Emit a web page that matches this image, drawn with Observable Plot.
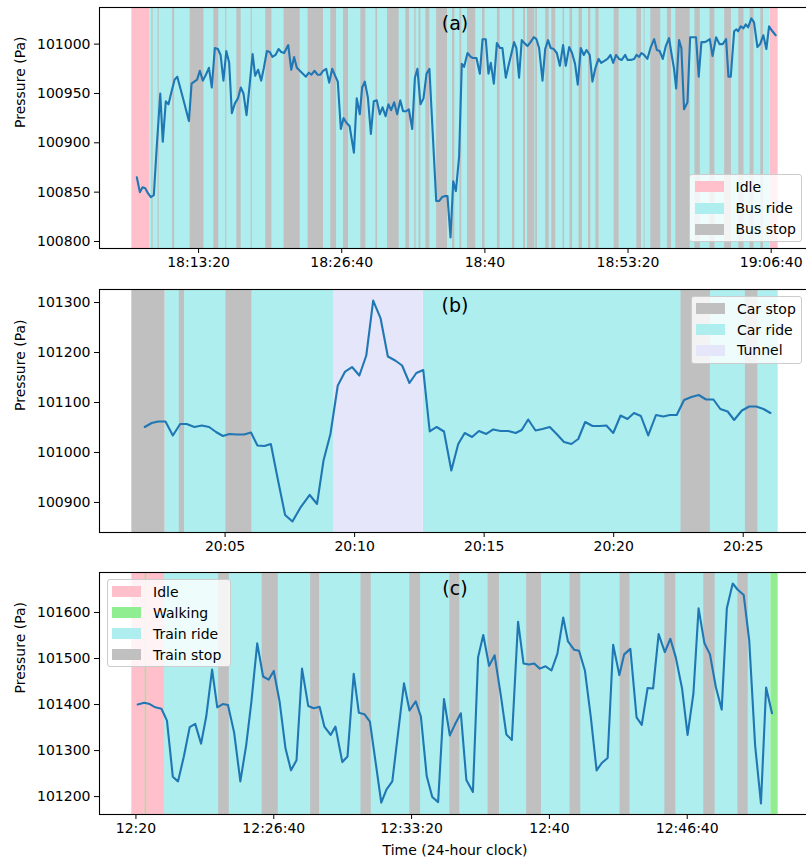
<!DOCTYPE html>
<html><head><meta charset="utf-8">
<script src="https://cdn.jsdelivr.net/npm/d3@7"></script>
<script src="https://cdn.jsdelivr.net/npm/@observablehq/plot@0.6"></script>
<style>
html,body{margin:0;padding:0;background:#fff;overflow:hidden;}
#fig{position:relative;width:806px;height:860px;overflow:hidden;font-family:"DejaVu Sans",sans-serif;}
.panel{position:absolute;left:0;max-width:none !important;}
.legend{position:absolute;box-sizing:border-box;background:rgba(255,255,255,0.8);border:1px solid #cccccc;border-radius:3px;font-size:14px;color:#000;}
.row{position:absolute;display:flex;align-items:center;height:20px;white-space:nowrap;}
.sw{width:29px;height:11px;margin-right:12px;flex:none;}
</style></head>
<body><div id="fig"></div>
<script>
// ---------- Panel (a): bus trip, time in seconds after 18:00:00 ----------
const timeA = [
 455,472,487,502,517,533,550,567,586,600,
 617,632,649,666,681,712,746,761,776,792,
 807,824,841,858,874,891,908,923,939,955,
 971,986,1003,1020,1036,1051,1068,1085,1102,1116,
 1133,1150,1165,1182,1198,1213,1230,1247,1262,1278,
 1301,1318,1334,1349,1366,1383,1400,1416,1431,1448,
 1465,1481,1496,1513,1530,1547,1563,1578,1595,1610,
 1627,1644,1668,1684,1701,1714,1729,1746,1763,1779,
 1796,1813,1828,1845,1861,1876,1893,1910,1927,1943,
 1960,1975,1994,2009,2023,2040,2057,2074,2090,2128,
 2144,2161,2178,2191,2208,2223,2238,2256,2271,2284,
 2303,2321,2334,2353,2372,2387,2405,2420,2433,2450,
 2467,2485,2498,2517,2532,2549,2563,2576,2591,2606,
 2621,2638,2655,2673,2688,2703,2722,2737,2753,2768,
 2785,2802,2819,2837,2852,2871,2887,2904,2919,2936,
 2953,2968,2986,3001,3018,3035,3050,3068,3085,3102,
 3117,3133,3150,3165,3184,3197,3215,3234,3247,3262,
 3275,3290,3308,3327,3346,3361,3377,3394,3411,3429,
 3444,3457,3469,3485,3498,3513,3532,3547,3565,3580,
 3595,3610,3625,3640,3657,3672,3692,3711,3729,3748,
 3761,3774,3793,3806,3815,3830,3845,3858,3871,3889,
 3904,3923,3938,3956,3973,3988,4007,4025];
const pressureA = [
 100865,100850,100855,100854,100849,100845,100847,100898,100950,100901,
 100942,100939,100952,100964,100967,100946,100922,100960,100962,100964,
 100973,100963,100969,100976,100956,100996,100995,100989,100963,100993,
 100981,100930,100940,100945,100956,100950,100928,100958,100990,100968,
 100974,100963,100976,100993,100992,100987,100989,100995,100992,100991,
 100999,100974,100987,100976,100973,100970,100967,100971,100969,100973,
 100969,100969,100973,100975,100961,100975,100968,100962,100914,100925,
 100920,100917,100890,100945,100929,100956,100962,100946,100909,100942,
 100943,100929,100936,100927,100939,100933,100941,100929,100943,100932,
 100932,100934,100914,100966,100975,100939,100945,100970,100975,100841,
 100841,100845,100846,100846,100804,100861,100851,100886,100980,100977,
 100991,100987,100986,100986,100970,101005,101005,100970,100981,100960,
 101001,100996,100996,100966,100978,100991,101002,100996,100966,101004,
 101001,100998,101002,101007,101005,100996,100963,100995,101004,100996,
 100995,100991,100978,100999,100978,100997,100991,100980,100959,100996,
 100989,100994,100989,100962,100976,100985,100981,100983,100985,100989,
 100981,100989,100985,100984,100989,100984,100984,100985,100989,100987,
 100991,100989,100985,100997,101005,100994,100993,100985,100998,101006,
 100989,100975,100955,101004,100996,100934,100941,101007,101007,101007,
 100967,101002,101002,101003,101005,100988,101007,101000,101000,101005,
 100967,100967,101013,101015,101013,101018,101016,101020,101017,101026,
 101022,100997,101000,101009,100995,101018,101013,101009];
const idleA = [[427,528],[3994,4039]];
const busRideA = [[528,3994]];
const busStopA = [[539,546],[574,580],[655,666],[753,830],[885,913],[952,958],[1014,1038],[1094,1100],
 [1176,1210],[1278,1368],[1412,1498],[1539,1571],[1610,1638],[1707,1735],[1791,1800],[1856,1921],
 [1958,1979],[2008,2016],[2032,2042],[2070,2092],[2130,2191],[2219,2232],[2260,2271],[2303,2349],
 [2387,2401],[2470,2485],[2554,2567],[2616,2627],[2638,2679],[2684,2694],[2740,2759],[2774,2796],
 [2837,2845],[2876,2890],[2926,2945],[2979,2992],[3020,3038],[3122,3150],[3249,3275],[3290,3295],
 [3327,3383],[3420,3443],[3467,3547],[3574,3604],[3658,3685],[3740,3778],[3819,3848],[3882,3904],[3942,3957]];
const xTicksA = [800,1600,2400,3200,4000];
const xTickLabelsA = ["18:13:20","18:26:40","18:40","18:53:20","19:06:40"];
const yTicksA = [100800,100850,100900,100950,101000];

// ---------- Panel (b): car trip, time in seconds after 20:00:00 ----------
const timeB = [
 114,130,145,162,179,196,211,229,246,263,
 279,295,310,327,344,360,375,391,406,422,
 439,456,474,496,513,528,544,561,578,594,
 611,627,643,660,677,694,710,727,743,759,
 774,790,807,824,840,855,872,888,905,921,
 938,956,973,987,1002,1019,1035,1052,1069,1085,
 1102,1118,1134,1151,1168,1183,1199,1216,1232,1247,
 1263,1280,1298,1315,1330,1346,1363,1380,1397,1414,
 1431,1447,1464,1479,1497,1514,1530,1547,1563];
const pressureB = [
 101051,101059,101062,101062,101034,101057,101057,101051,101054,101051,
 101041,101033,101037,101036,101036,101040,101014,101013,101017,100947,
 100875,100862,100889,100915,100897,100984,101037,101134,101162,101171,
 101154,101194,101304,101269,101192,101184,101174,101139,101159,101165,
 101042,101051,101042,100964,101017,101039,101031,101043,101037,101046,
 101043,101043,101039,101045,101066,101044,101047,101051,101036,101021,
 101017,101027,101061,101053,101053,101054,101039,101074,101067,101079,
 101073,101034,101075,101072,101075,101075,101105,101111,101115,101106,
 101106,101087,101082,101065,101084,101092,101092,101087,101079];
const carStopB = [[84,161],[194,206],[302,362],[1356,1424],[1505,1534]];
const carRideB = [[161,551],[759,1581]];
const tunnelB = [[551,759]];
const xTicksB = [300,600,900,1200,1500];
const xTickLabelsB = ["20:05","20:10","20:15","20:20","20:25"];
const yTicksB = [100900,101000,101100,101200,101300];

// ---------- Panel (c): train trip, time in seconds after 12:00:00 ----------
const timeC = [
 1205,1224,1240,1256,1274,1290,1307,1322,1339,1356,
 1372,1389,1404,1421,1436,1452,1467,1485,1503,1520,
 1535,1552,1569,1585,1600,1617,1634,1650,1666,1682,
 1700,1716,1733,1747,1765,1779,1799,1814,1832,1847,
 1863,1879,1912,1927,1944,1978,1994,2012,2027,2044,
 2060,2077,2094,2111,2126,2143,2159,2178,2193,2208,
 2225,2241,2259,2275,2291,2309,2325,2341,2356,2372,
 2389,2406,2423,2440,2454,2472,2486,2503,2520,2537,
 2552,2569,2585,2603,2617,2635,2653,2668,2685,2701,
 2717,2735,2751,2767,2785,2801,2818,2833,2850,2866,
 2883,2900,2915,2932,2946,2964,2980,2997,3014,3029,
 3046];
const pressureC = [
 101400,101404,101401,101394,101391,101365,101243,101233,101287,101351,
 101358,101315,101374,101476,101394,101401,101399,101339,101233,101312,
 101406,101533,101461,101454,101473,101406,101305,101257,101279,101478,
 101397,101392,101395,101352,101334,101352,101275,101287,101467,101382,
 101379,101363,101187,101215,101233,101446,101387,101407,101374,101244,
 101199,101188,101412,101333,101357,101381,101236,101210,101503,101551,
 101484,101507,101420,101335,101323,101580,101489,101487,101489,101478,
 101483,101474,101510,101589,101537,101519,101517,101474,101374,101257,
 101273,101284,101530,101464,101509,101521,101372,101356,101436,101435,
 101553,101514,101543,101502,101435,101334,101424,101609,101533,101509,
 101438,101389,101609,101663,101650,101638,101539,101312,101185,101437,
 101381];
const idleC = [[1188,1283]];
const walkingC = [[1227,1231],[3043,3064]];
const trainRideC = [[1283,3043]];
const trainStopC = [[1440,1471],[1566,1613],[1707,1733],[1853,1883],[1995,2026],[2111,2140],[2222,2255],
 [2334,2377],[2460,2491],[2605,2634],[2735,2767],[2848,2881],[2947,2977]];
const xTicksC = [1200,1600,2000,2400,2800];
const xTickLabelsC = ["12:20","12:26:40","12:33:20","12:40","12:46:40"];
const yTicksC = [101200,101300,101400,101500,101600];

// ---------- colours ----------
const C = {idle:"#ffc0cb", ride:"#afeeee", stop:"#c0c0c0", tunnel:"#e6e6fa", walk:"#90ee90", line:"#1f77b4"};

function pad(ext){const r = ext[1]-ext[0]; return [ext[0]-0.05*r, ext[1]+0.05*r];}

function makePanel(cfg){
  const rows = cfg.time.map((t,i)=>({t, p: cfg.press[i]}));
  const allEdges = cfg.layers.flatMap(l => l.bands.flat());
  const xd = pad(d3.extent(allEdges));
  const yd = pad(d3.extent(cfg.press));
  const fmtX = d => cfg.xLabels[cfg.xTicks.indexOf(d)];
  const marks = [];
  for (const l of cfg.layers) {
    marks.push(Plot.rect(l.bands, {x1: d=>d[0], x2: d=>d[1], fill: l.color}));
  }
  marks.push(Plot.line(rows, {x:"t", y:"p", stroke: C.line, strokeWidth: 2.1}));
  marks.push(Plot.frame({stroke:"#000", strokeWidth:1.1}));
  marks.push(Plot.axisX({ticks: cfg.xTicks, tickFormat: fmtX, tickSize:5, tickPadding:4, label:null}));
  marks.push(Plot.axisY({ticks: cfg.yTicks, tickFormat: d3.format("d"), tickSize:5, tickPadding:4, label:null}));
  marks.push(Plot.text([cfg.title], {frameAnchor:"top", lineAnchor:"top", dy:9, fontSize:19}));
  marks.push(Plot.text(["Pressure (Pa)"], {frameAnchor:"left", rotate:-90, dx:-79, fontSize:14}));
  if (cfg.xlabel) marks.push(Plot.text([cfg.xlabel], {frameAnchor:"bottom", lineAnchor:"middle", dy:36, fontSize:14}));
  const svg = Plot.plot({
    width: 812, height: cfg.height,
    marginLeft: 99, marginRight: 2, marginTop: cfg.mt, marginBottom: cfg.mb,
    style: {fontFamily:"DejaVu Sans, sans-serif", fontSize:"14px", color:"#000", background:"transparent", overflow:"visible", maxWidth:"none"},
    x: {domain: xd},
    y: {domain: yd},
    marks
  });
  svg.classList.add("panel");
  svg.style.top = cfg.top + "px";
  svg.style.maxWidth = "none";
  svg.style.width = "812px";
  svg.style.height = cfg.height + "px";
  return svg;
}

function makeLegend(items, box){
  const div = document.createElement("div");
  div.className = "legend";
  Object.assign(div.style, {left: box.left+"px", top: box.top+"px", width: box.width+"px", height: box.height+"px"});
  items.forEach((it, i) => {
    const r = document.createElement("div");
    r.className = "row";
    r.style.left = box.padLeft + "px";
    r.style.top = (box.firstCenter - 10 + i*box.step) + "px";
    const sw = document.createElement("span"); sw.className = "sw"; sw.style.background = it.color;
    const tx = document.createElement("span"); tx.textContent = it.label;
    r.appendChild(sw); r.appendChild(tx);
    div.appendChild(r);
  });
  return div;
}

const fig = document.getElementById("fig");

fig.appendChild(makePanel({
  time: timeA, press: pressureA, title: "(a)",
  layers: [{bands: busRideA, color: C.ride}, {bands: idleA, color: C.idle}, {bands: busStopA, color: C.stop}],
  xTicks: xTicksA, xLabels: xTickLabelsA, yTicks: yTicksA,
  top: 0, height: 283, mt: 7, mb: 35
}));
fig.appendChild(makePanel({
  time: timeB, press: pressureB, title: "(b)",
  layers: [{bands: carRideB, color: C.ride}, {bands: tunnelB, color: C.tunnel}, {bands: carStopB, color: C.stop}],
  xTicks: xTicksB, xLabels: xTickLabelsB, yTicks: yTicksB,
  top: 283, height: 283, mt: 6, mb: 34
}));
fig.appendChild(makePanel({
  time: timeC, press: pressureC, title: "(c)", xlabel: "Time (24-hour clock)",
  layers: [{bands: trainRideC, color: C.ride}, {bands: idleC, color: C.idle}, {bands: walkingC, color: C.walk}, {bands: trainStopC, color: C.stop}],
  xTicks: xTicksC, xLabels: xTickLabelsC, yTicks: yTicksC,
  top: 566, height: 294, mt: 6, mb: 46
}));

fig.appendChild(makeLegend(
  [{label:"Idle", color:C.idle},{label:"Bus ride", color:C.ride},{label:"Bus stop", color:C.stop}],
  {left:689, top:174, width:113, height:68, padLeft:4.5, firstCenter:11.7, step:21.3}));
fig.appendChild(makeLegend(
  [{label:"Car stop", color:C.stop},{label:"Car ride", color:C.ride},{label:"Tunnel", color:C.tunnel}],
  {left:690.5, top:296, width:111.5, height:68, padLeft:4.5, firstCenter:11.7, step:20.8}));
fig.appendChild(makeLegend(
  [{label:"Idle", color:C.idle},{label:"Walking", color:C.walk},{label:"Train ride", color:C.ride},{label:"Train stop", color:C.stop}],
  {left:106.5, top:579, width:124, height:88, padLeft:4.5, firstCenter:11.7, step:21}));
</script></body></html>
